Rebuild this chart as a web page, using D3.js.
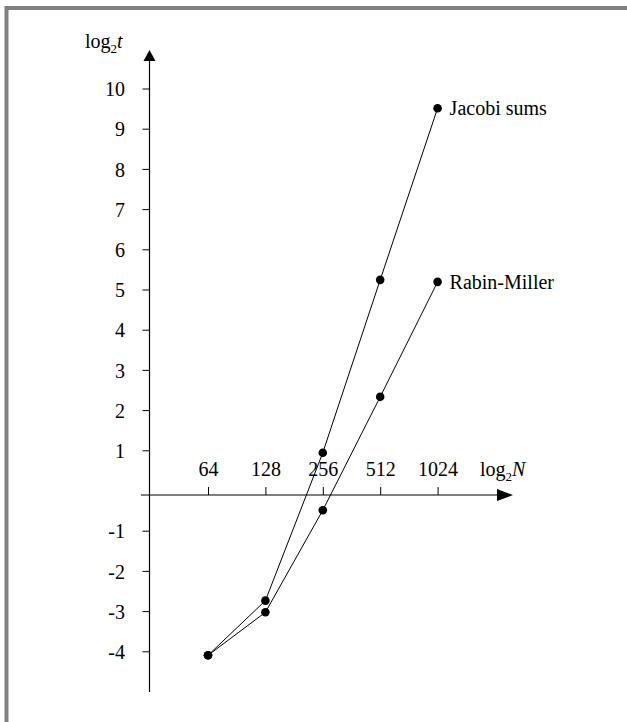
<!DOCTYPE html>
<html>
<head>
<meta charset="utf-8">
<script src="https://cdn.jsdelivr.net/npm/d3@7"></script>
<style>
  html, body { margin: 0; padding: 0; background: #fff; }
  svg { display: block; }
  text { font-family: "Liberation Serif", "Times New Roman", serif; fill: #000; }
</style>
</head>
<body>
<svg id="chart" width="627" height="722"></svg>
<script>
// ---- data ----
const categories = [64, 128, 256, 512, 1024];           // N (x axis shows log2 N)
const jacobiSums = [-4.1, -2.74, 0.94, 5.24, 9.51];     // log2 t
const rabinMiller = [-4.1, -3.03, -0.49, 2.33, 5.19];   // log2 t
const yTickLabels = [-4, -3, -2, -1, 1, 2, 3, 4, 5, 6, 7, 8, 9, 10];
const seriesNames = ["Jacobi sums", "Rabin-Miller"];

const svg = d3.select("#chart");

// gray frame (top / left edges visible)
svg.append("rect")
  .attr("x", 6.5).attr("y", 8).attr("width", 700).attr("height", 800)
  .attr("fill", "none").attr("stroke", "#808080").attr("stroke-width", 4);

const x = d3.scaleLog().base(2).domain([64, 1024]).range([208, 437.6]);
const y = d3.scaleLinear().domain([-4, 10]).range([651.3, 88.5]);

const axisX = 149.5;          // position of vertical axis
const axisY = y(0) + 4.5;     // position of horizontal axis

// vertical axis line + arrow
svg.append("line")
  .attr("x1", axisX).attr("x2", axisX).attr("y1", 692).attr("y2", 58)
  .attr("stroke", "#000").attr("stroke-width", 1.2);
svg.append("path")
  .attr("d", `M${axisX},50 L${axisX - 6},61 L${axisX + 6},61 Z`)
  .attr("fill", "#000");

// horizontal axis line + arrow
svg.append("line")
  .attr("x1", 141).attr("x2", 500).attr("y1", axisY).attr("y2", axisY)
  .attr("stroke", "#000").attr("stroke-width", 1.2);
svg.append("path")
  .attr("d", `M513,${axisY} L497,${axisY - 6} L497,${axisY + 6} Z`)
  .attr("fill", "#000");

// y ticks
const gy = svg.append("g").attr("transform", `translate(${axisX},0)`)
  .call(d3.axisLeft(y).tickValues(yTickLabels).tickSize(7).tickPadding(17.5)
        .tickFormat(d3.format("d")));
gy.select(".domain").remove();
gy.selectAll(".tick line").attr("stroke", "#000");
gy.selectAll(".tick text")
  .attr("font-family", "Liberation Serif, serif").attr("font-size", 20)
  .attr("dy", "0.36em").text(d => d < 0 ? "-" + Math.abs(d) : d);

// x ticks
const gx = svg.append("g").attr("transform", `translate(0,${axisY})`)
  .call(d3.axisTop(x).tickValues(categories).tickSize(8).tickPadding(11)
        .tickFormat(d3.format("d")));
gx.select(".domain").remove();
gx.selectAll(".tick line").attr("stroke", "#000");
gx.selectAll(".tick text")
  .attr("font-family", "Liberation Serif, serif").attr("font-size", 20);

// axis titles
const tY = svg.append("text").attr("x", 85).attr("y", 48).attr("font-size", 20);
tY.append("tspan").text("log");
tY.append("tspan").attr("font-size", 13).attr("dy", 5).text("2");
tY.append("tspan").attr("font-style", "italic").attr("dy", -5).text("t");

const tX = svg.append("text").attr("x", 480).attr("y", axisY - 19).attr("font-size", 20);
tX.append("tspan").text("log");
tX.append("tspan").attr("font-size", 13).attr("dy", 5).text("2");
tX.append("tspan").attr("font-style", "italic").attr("dy", -5).text("N");

// series
const line = d3.line().x((d, i) => x(categories[i])).y(d => y(d));
[jacobiSums, rabinMiller].forEach((vals, si) => {
  svg.append("path").datum(vals)
    .attr("d", line).attr("fill", "none").attr("stroke", "#000").attr("stroke-width", 1);
  svg.selectAll(null).data(vals).enter().append("circle")
    .attr("cx", (d, i) => x(categories[i])).attr("cy", d => y(d))
    .attr("r", 4.3).attr("fill", "#000");
  const last = vals[vals.length - 1];
  svg.append("text")
    .attr("x", x(categories[categories.length - 1]) + 12)
    .attr("y", y(last) + 7)
    .attr("font-size", 20)
    .text(seriesNames[si]);
});
</script>
</body>
</html>
